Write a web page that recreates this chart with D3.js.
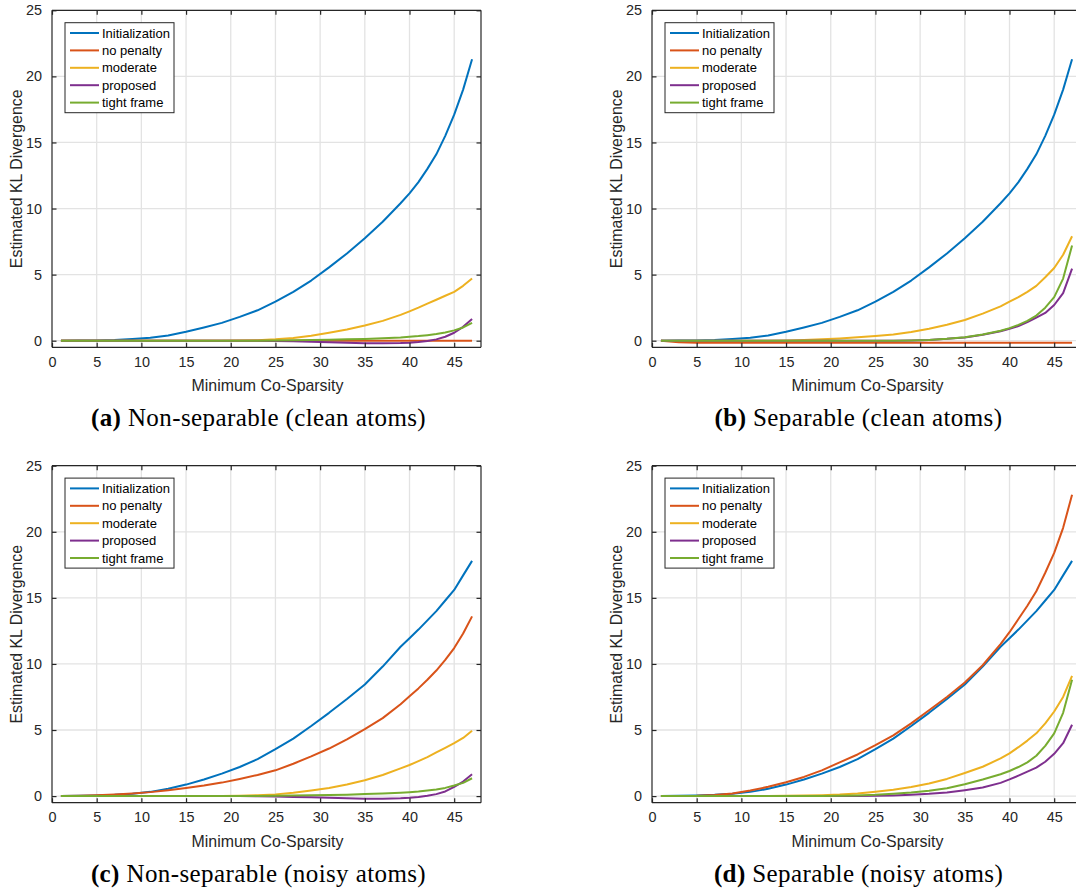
<!DOCTYPE html>
<html><head><meta charset="utf-8">
<script src="https://cdn.jsdelivr.net/npm/d3@7"></script>
<style>body{margin:0;background:#fff}svg{display:block}</style>
</head><body><svg id="chart" width="1076" height="893"></svg>
<script>
// ---------- data ----------
const xs = [1,3,5,7,9,11,13,15,17,19,21,23,25,27,29,31,33,35,37,39,40,41,42,43,44,45,46,47];
const seriesNames = ["Initialization","no penalty","moderate","proposed","tight frame"];
const seriesColors = ["#0072BD","#D95319","#EDB120","#7E2F8E","#77AC30"];
const xTicks = [0,5,10,15,20,25,30,35,40,45];
const yTicks = [0,5,10,15,20,25];
const xLabel = "Minimum Co-Sparsity";
const yLabel = "Estimated KL Divergence";

const initClean = [0,0.01,0.02,0.05,0.12,0.22,0.4,0.68,1.0,1.35,1.8,2.3,2.95,3.7,4.55,5.55,6.6,7.75,9.0,10.4,11.15,12.0,13.0,14.1,15.5,17.1,19.0,21.3];
const initNoisy = [0,0.02,0.05,0.1,0.18,0.32,0.55,0.87,1.25,1.7,2.2,2.8,3.55,4.35,5.3,6.3,7.35,8.45,9.8,11.3,11.95,12.6,13.3,14.0,14.8,15.6,16.7,17.8];

const noPenA = [0,0,0,0,0,0,0,0,0,0,0,0,0,0,0,0,0,0,0,0,0,0,0,0,0,0,0,0];
const moderateA = [0,0,0,0,0,0,0,0,0,0,0.01,0.04,0.1,0.2,0.38,0.6,0.85,1.15,1.5,1.95,2.22,2.5,2.8,3.1,3.4,3.7,4.15,4.7];
const proposedA = [0,0,0,0,0,0,0,0,0,0,0,0,-0.02,-0.05,-0.08,-0.12,-0.16,-0.19,-0.2,-0.18,-0.15,-0.1,-0.02,0.1,0.3,0.6,1.05,1.65];
const tightA = [0,0,0,0,0,0,0,0,0,0,0,0,0.02,0.03,0.05,0.07,0.1,0.13,0.18,0.25,0.3,0.35,0.42,0.5,0.62,0.78,1.0,1.35];

const noPenB = [0,-0.12,-0.15,-0.15,-0.15,-0.15,-0.15,-0.15,-0.15,-0.15,-0.15,-0.15,-0.15,-0.15,-0.15,-0.15,-0.15,-0.15,-0.15,-0.15,-0.15,-0.15,-0.15,-0.15,-0.15,-0.15,-0.15,-0.15];
const moderateB = [0,0,0,0,0,0,0,0.02,0.05,0.1,0.17,0.26,0.35,0.47,0.65,0.9,1.2,1.57,2.05,2.6,2.95,3.3,3.7,4.15,4.8,5.5,6.5,7.9];
const proposedB = [0,0,0,0,0,0,0,0,0,0,0,0,0,0,0.02,0.06,0.14,0.25,0.45,0.72,0.9,1.1,1.4,1.75,2.1,2.7,3.6,5.45];
const tightB = [0,0,0,0,0,0,0,0,0,0,0,0,0,0,0.02,0.06,0.14,0.26,0.47,0.75,0.95,1.2,1.5,1.9,2.5,3.3,4.7,7.2];

const noPenC = [0,0.02,0.06,0.12,0.2,0.3,0.45,0.62,0.8,1.02,1.3,1.6,1.95,2.45,3.0,3.6,4.3,5.07,5.9,6.95,7.55,8.15,8.8,9.5,10.3,11.2,12.3,13.6];
const moderateC = [0,0,0,0,0,0,0,0,0,0.01,0.03,0.07,0.13,0.25,0.42,0.62,0.88,1.2,1.6,2.1,2.35,2.65,2.95,3.3,3.65,4.0,4.4,4.95];
const proposedC = [0,0,0,0,0,0,0,0,0,0,0,-0.01,-0.03,-0.06,-0.09,-0.13,-0.17,-0.2,-0.21,-0.17,-0.13,-0.07,0.02,0.15,0.35,0.7,1.1,1.65];
const tightC = [0,0,0,0,0,0,0,0,0,0,0,0,0.03,0.04,0.06,0.08,0.11,0.15,0.2,0.26,0.3,0.35,0.42,0.5,0.62,0.8,1.0,1.35];

const noPenD = [0,0.01,0.03,0.08,0.2,0.42,0.7,1.05,1.45,1.95,2.55,3.15,3.85,4.6,5.5,6.5,7.5,8.6,9.9,11.5,12.4,13.4,14.4,15.5,16.9,18.4,20.3,22.8];
const moderateD = [0,0,0,0,0,0,0,0.02,0.04,0.07,0.12,0.2,0.33,0.48,0.68,0.95,1.3,1.75,2.22,2.85,3.23,3.7,4.2,4.75,5.5,6.4,7.5,9.1];
const proposedD = [0,0,0,0,0,0,0,0,0,0,0,0,0.02,0.05,0.1,0.17,0.28,0.45,0.65,1.0,1.26,1.55,1.85,2.15,2.6,3.2,4.0,5.4];
const tightD = [0,0,0,0,0,0,0,0,0,0,0.02,0.05,0.1,0.18,0.27,0.4,0.6,0.9,1.25,1.65,1.9,2.2,2.55,3.05,3.8,4.75,6.3,8.8];

const captionTags = ["(a)","(b)","(c)","(d)"];
const captionTexts = [" Non-separable (clean atoms)"," Separable (clean atoms)"," Non-separable (noisy atoms)"," Separable (noisy atoms)"];

// ---------- layout ----------
const W = 429, H = 337;
const panels = [
  {left:52,  top:10.3,  series:[initClean,noPenA,moderateA,proposedA,tightA]},
  {left:652, top:10.3,  series:[initClean,noPenB,moderateB,proposedB,tightB]},
  {left:52,  top:465.7, series:[initNoisy,noPenC,moderateC,proposedC,tightC]},
  {left:652, top:465.7, series:[initNoisy,noPenD,moderateD,proposedD,tightD]}
];
const axisColor = "#262626";
const svg = d3.select("#chart");

panels.forEach((p, pi) => {
  const g = svg.append("g").attr("transform", `translate(${p.left},${p.top})`);
  const x = d3.scaleLinear().domain([0,48]).range([0,W]);
  const y = d3.scaleLinear().domain([-0.5,25]).range([H,0]);

  // grid
  g.append("g").selectAll("line").data(xTicks.filter(d=>d>0)).join("line")
    .attr("x1",d=>x(d)).attr("x2",d=>x(d)).attr("y1",0).attr("y2",H)
    .attr("stroke","#e3e3e3").attr("stroke-width",1.3);
  g.append("g").selectAll("line").data(yTicks).join("line")
    .attr("x1",0).attr("x2",W).attr("y1",d=>y(d)).attr("y2",d=>y(d))
    .attr("stroke","#e3e3e3").attr("stroke-width",1.3);

  // series
  const line = d3.line().x((d,i)=>x(xs[i])).y(d=>y(d));
  p.series.forEach((s, si) => {
    g.append("path").datum(s).attr("d", line)
      .attr("fill","none").attr("stroke",seriesColors[si]).attr("stroke-width",2)
      .attr("stroke-linejoin","round");
  });

  // axes (MATLAB-like: ticks inside, box on)
  const tl = 4.5;
  const ax = g.append("g").attr("transform",`translate(0,${H})`)
    .call(d3.axisBottom(x).tickValues(xTicks).tickSize(-tl).tickPadding(9));
  const ay = g.append("g")
    .call(d3.axisLeft(y).tickValues(yTicks).tickSize(-tl).tickPadding(10));
  const axT = g.append("g").call(d3.axisTop(x).tickValues(xTicks).tickSize(-tl).tickFormat(""));
  const ayR = g.append("g").attr("transform",`translate(${W},0)`)
    .call(d3.axisRight(y).tickValues(yTicks).tickSize(-tl).tickFormat(""));
  [ax,ay,axT,ayR].forEach(a=>{
    a.selectAll("path").attr("stroke",axisColor).attr("stroke-width",1.2);
    a.selectAll("line").attr("stroke",axisColor).attr("stroke-width",1.2);
    a.selectAll("text").attr("fill",axisColor).attr("font-family","'Liberation Sans', Arial, sans-serif").attr("font-size",14.4);
  });
  ax.selectAll("path").attr("d",`M0,0H${W}`);
  axT.selectAll("path").attr("d",`M0,0H${W}`);
  ay.selectAll("path").attr("d",`M0,0V${H}`);
  ayR.selectAll("path").attr("d",`M0,0V${H}`);

  // axis titles
  g.append("text").attr("x",W/2+1).attr("y",H+44).attr("text-anchor","middle")
    .attr("font-family","'Liberation Sans', Arial, sans-serif").attr("font-size",15.9)
    .attr("fill",axisColor).text(xLabel);
  g.append("text").attr("transform",`translate(${21.5-52},${H/2}) rotate(-90)`)
    .attr("text-anchor","middle")
    .attr("font-family","'Liberation Sans', Arial, sans-serif").attr("font-size",15.9)
    .attr("fill",axisColor).text(yLabel);

  // legend
  const lg = g.append("g").attr("transform","translate(13,12.4)");
  lg.append("rect").attr("width",109).attr("height",90).attr("fill","#fff")
    .attr("stroke",axisColor).attr("stroke-width",1);
  seriesNames.forEach((n, i) => {
    const yy = 10.3 + i*17.4;
    lg.append("line").attr("x1",5).attr("x2",34).attr("y1",yy).attr("y2",yy)
      .attr("stroke",seriesColors[i]).attr("stroke-width",2);
    lg.append("text").attr("x",37).attr("y",yy+4.6)
      .attr("font-family","'Liberation Sans', Arial, sans-serif").attr("font-size",13)
      .attr("fill","#000").text(n);
  });

  // caption
  const cap = g.append("text").attr("x", W/2 - 8).attr("y", H + 79)
    .attr("text-anchor","middle").attr("font-family","'Liberation Serif','Times New Roman',serif")
    .attr("font-size",25).attr("letter-spacing",0.4).attr("fill","#000");
  cap.append("tspan").attr("font-weight","bold").text(captionTags[pi]);
  cap.append("tspan").text(captionTexts[pi]);
});
</script></body></html>
